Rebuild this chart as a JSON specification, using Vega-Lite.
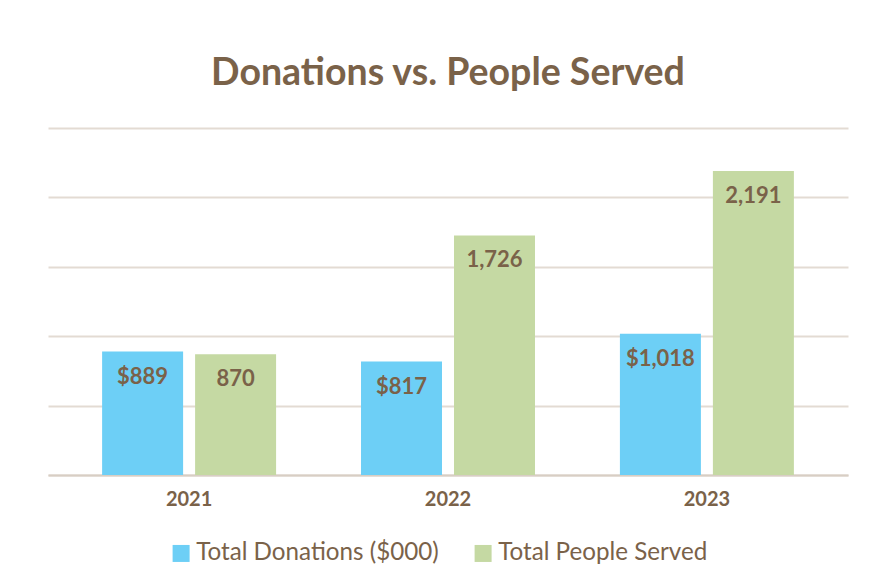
{
  "$schema": "https://vega.github.io/schema/vega-lite/v6.json",
  "width": 800,
  "height": 347,
  "padding": {"left": 48, "top": 54, "right": 34, "bottom": 10},
  "background": "white",
  "title": {
    "text": "Donations vs. People Served",
    "fontSize": 37.5,
    "font": "Lato",
    "fontWeight": "bold",
    "color": "#7a6249",
    "offset": 36,
    "anchor": "middle"
  },
  "data": {
    "values": [
      {"year": "2021", "series": "Total Donations ($000)", "value": 889, "label": "$889"},
      {"year": "2021", "series": "Total People Served", "value": 870, "label": "870"},
      {"year": "2022", "series": "Total Donations ($000)", "value": 817, "label": "$817"},
      {"year": "2022", "series": "Total People Served", "value": 1726, "label": "1,726"},
      {"year": "2023", "series": "Total Donations ($000)", "value": 1018, "label": "$1,018"},
      {"year": "2023", "series": "Total People Served", "value": 2191, "label": "2,191"}
    ]
  },
  "encoding": {
    "x": {
      "field": "year",
      "type": "nominal",
      "title": null,
      "scale": {"paddingInner": 0.328, "paddingOuter": 0.209},
      "axis": {
        "labelAngle": 0,
        "labelFont": "Lato",
        "labelFontSize": 20,
        "labelFontWeight": "bold",
        "labelColor": "#7a6249",
        "ticks": false,
        "tickSize": 0,
        "labelPadding": 14,
        "domainColor": "#d8cec4",
        "domainWidth": 2
      }
    },
    "xOffset": {
      "field": "series",
      "type": "nominal",
      "sort": ["Total Donations ($000)", "Total People Served"],
      "scale": {"paddingInner": 0.129, "paddingOuter": 0}
    },
    "y": {
      "field": "value",
      "type": "quantitative",
      "title": null,
      "scale": {"domain": [0, 2500], "nice": false},
      "axis": {
        "values": [0, 500, 1000, 1500, 2000, 2500],
        "labels": false,
        "ticks": false,
        "domain": false,
        "grid": true,
        "gridColor": "#e3dbd3",
        "gridWidth": 2
      }
    }
  },
  "layer": [
    {
      "mark": {"type": "bar"},
      "encoding": {
        "color": {
          "field": "series",
          "type": "nominal",
          "title": null,
          "scale": {
            "domain": ["Total Donations ($000)", "Total People Served"],
            "range": ["#6dcff6", "#c5d9a3"]
          },
          "legend": {
            "orient": "none",
            "legendX": 121,
            "legendY": 413,
            "padding": 0,
            "direction": "horizontal",
            "symbolType": "square",
            "symbolSize": 289,
            "symbolStrokeWidth": 0,
            "labelFont": "Lato",
            "labelFontSize": 24.2,
            "labelColor": "#7a6249",
            "labelOffset": 3,
            "labelLimit": 400,
            "columnPadding": 32
          }
        }
      }
    },
    {
      "mark": {
        "type": "text",
        "baseline": "middle",
        "dy": 25,
        "font": "Lato",
        "fontSize": 22,
        "fontWeight": "bold",
        "color": "#7a6249"
      },
      "encoding": {
        "text": {"field": "label"}
      }
    }
  ],
  "config": {
    "view": {"stroke": null}
  }
}
